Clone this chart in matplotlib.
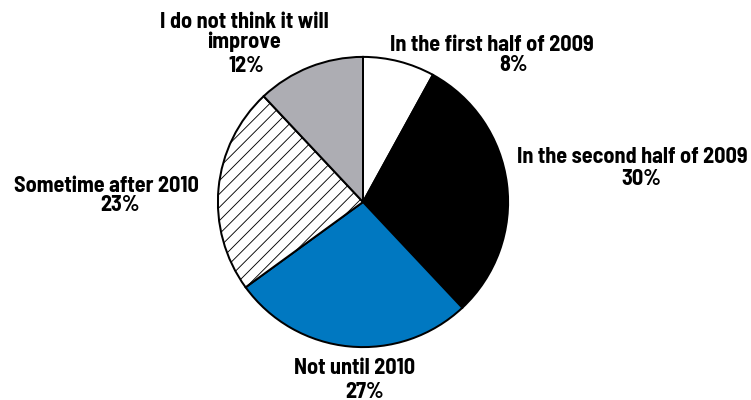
import matplotlib
matplotlib.use("Agg")
import matplotlib.pyplot as plt

# When do you expect things to improve?
labels = ["In the first half of 2009", "In the second half of 2009", "Not until 2010",
          "Sometime after 2010", "I do not think it will\nimprove"]
shares = [8, 30, 27, 23, 12]
colors = ["white", "black", "#0078c1", "white", "#adadb3"]
hatches = [None, None, None, "//", None]

W, H, DPI = 751, 400, 80
plt.rcParams["font.family"] = ["Barlow Semi Condensed", "DejaVu Sans"]
plt.rcParams["hatch.linewidth"] = 0.8

fig = plt.figure(figsize=(W / DPI, H / DPI), dpi=DPI)

# pie centre and radius in pixels
cx, cy, r = 363, 202, 148
ax = fig.add_axes([(cx - r) / W, (H - cy - r) / H, 2 * r / W, 2 * r / H])
wedges, _ = ax.pie(shares, colors=colors, startangle=90, counterclock=False,
                   wedgeprops=dict(edgecolor="black", linewidth=1.8))
for w, h in zip(wedges, hatches):
    if h:
        w.set_hatch(h)
ax.set_xlim(-1.02, 1.02)
ax.set_ylim(-1.02, 1.02)
ax.set_aspect("equal")
ax.axis("off")

# label positions (pixel centres of name block and percent line)
name_pos = [(492, 45), (632, 157), (355, 368), (106, 186), (244, 32)]
pct_pos = [(514, 65), (641, 179), (365, 392), (120, 205), (246, 66)]

fs = 20
for lab, v, (nx, ny), (px, py) in zip(labels, shares, name_pos, pct_pos):
    fig.text(nx / W, 1 - ny / H, lab, ha="center", va="center", fontsize=fs,
             fontweight="bold", linespacing=0.95)
    fig.text(px / W, 1 - py / H, f"{v}%", ha="center", va="center", fontsize=fs,
             fontweight="bold")

fig.savefig("out.png", dpi=DPI)
